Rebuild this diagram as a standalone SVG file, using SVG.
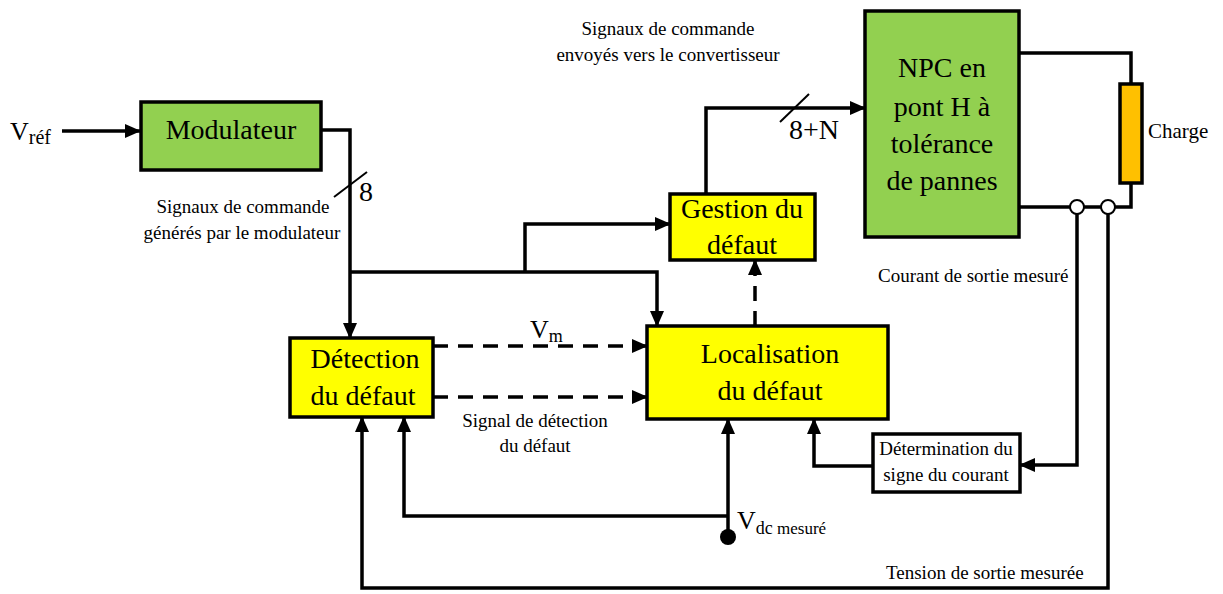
<svg xmlns="http://www.w3.org/2000/svg" width="1223" height="594" viewBox="0 0 1223 594">
<style>
text{font-family:'Liberation Serif',serif;fill:#000}
.box{stroke:#000;stroke-width:3.5}
.green{fill:#92D050}
.yellow{fill:#FFFF00}
.white{fill:#fff}
.orange{fill:#FFC000}
.big{font-size:28px}
.sm{font-size:19px}
.ln{fill:none;stroke:#000;stroke-width:3.5}
.dash{fill:none;stroke:#000;stroke-width:3.5;stroke-dasharray:15 10}
</style>
<defs>
<marker id="ah" markerWidth="16" markerHeight="14" refX="15" refY="7" orient="auto" markerUnits="userSpaceOnUse">
<path d="M0,0 L16,7 L0,14 Z" fill="#000"/>
</marker>
</defs>
<rect width="1223" height="594" fill="#fff"/>

<g id="connectors">
<path class="ln" d="M62,131 H140" marker-end="url(#ah)"/>
<path class="ln" d="M321,130 H350 V338" marker-end="url(#ah)"/>
<path class="ln" d="M350,272 H657 V326" marker-end="url(#ah)"/>
<path class="ln" d="M525,272 V224 H670" marker-end="url(#ah)"/>
<path class="ln" d="M706,194 V108 H865" marker-end="url(#ah)"/>
<path class="dash" d="M433,346 H647" marker-end="url(#ah)"/>
<path class="dash" d="M433,397 H647" marker-end="url(#ah)"/>
<path class="dash" d="M755,326 V260" marker-end="url(#ah)"/>
<path class="ln" d="M1019,53 H1131 V84"/>
<path class="ln" d="M1131,183 V207 H1019"/>
<path class="ln" d="M1077,213 V465 H1020" marker-end="url(#ah)"/>
<path class="ln" d="M1108,213 V588 H362 V417" marker-end="url(#ah)"/>
<path class="ln" d="M728,537 V419" marker-end="url(#ah)"/>
<path class="ln" d="M728,516 H404 V417" marker-end="url(#ah)"/>
<path class="ln" d="M873,466 H814 V419" marker-end="url(#ah)"/>
<line x1="334" y1="197" x2="367" y2="172" stroke="#000" stroke-width="2"/>
<line x1="780" y1="122" x2="809" y2="94" stroke="#000" stroke-width="2"/>
<circle cx="1077" cy="207" r="7" fill="#fff" stroke="#000" stroke-width="2"/>
<circle cx="1108" cy="207" r="7" fill="#fff" stroke="#000" stroke-width="2"/>
<circle cx="728" cy="537" r="8" fill="#000"/>
</g>

<g id="modulateur">
<rect class="box green" x="141" y="102" width="180" height="68"/>
<text class="big" font-family="Liberation Serif" x="231" y="139" text-anchor="middle">Modulateur</text>
</g>

<g id="npc">
<rect class="box green" x="865" y="11" width="154" height="226"/>
<text class="big" font-family="Liberation Serif" x="942" y="77" text-anchor="middle">NPC en</text>
<text class="big" font-family="Liberation Serif" x="942" y="116" text-anchor="middle">pont H à</text>
<text class="big" font-family="Liberation Serif" x="942" y="153" text-anchor="middle">tolérance</text>
<text class="big" font-family="Liberation Serif" x="942" y="190" text-anchor="middle">de pannes</text>
</g>

<g id="charge">
<rect class="box orange" x="1120" y="84" width="22" height="99"/>
<text font-family="Liberation Serif" x="1148" y="138" font-size="21">Charge</text>
</g>

<g id="gestion">
<rect class="box yellow" x="670" y="194" width="145" height="66"/>
<text class="big" font-family="Liberation Serif" x="742" y="218" text-anchor="middle">Gestion du</text>
<text class="big" font-family="Liberation Serif" x="742" y="254" text-anchor="middle">défaut</text>
</g>

<g id="detection">
<rect class="box yellow" x="290" y="338" width="143" height="79"/>
<text class="big" font-family="Liberation Serif" x="365" y="368" text-anchor="middle">Détection</text>
<text class="big" font-family="Liberation Serif" x="363" y="405" text-anchor="middle">du défaut</text>
</g>

<g id="localisation">
<rect class="box yellow" x="647" y="326" width="241" height="93"/>
<text class="big" font-family="Liberation Serif" x="770" y="363" text-anchor="middle">Localisation</text>
<text class="big" font-family="Liberation Serif" x="770" y="400" text-anchor="middle">du défaut</text>
</g>

<g id="determination">
<rect class="box white" x="873" y="434" width="147" height="58" stroke-width="3"/>
<text class="sm" font-family="Liberation Serif" x="946" y="455" text-anchor="middle">Détermination du</text>
<text class="sm" font-family="Liberation Serif" x="946" y="481" text-anchor="middle">signe du courant</text>
</g>

<g id="labels">
<text font-family="Liberation Serif" x="10" y="140" font-size="26">V<tspan font-size="20" dy="4">réf</tspan></text>
<text class="sm" font-family="Liberation Serif" x="243" y="213" text-anchor="middle">Signaux de commande</text>
<text class="sm" font-family="Liberation Serif" x="242" y="239" text-anchor="middle">générés par le modulateur</text>
<text class="big" font-family="Liberation Serif" x="359" y="201">8</text>
<text class="sm" font-family="Liberation Serif" x="668" y="35" text-anchor="middle">Signaux de commande</text>
<text class="sm" font-family="Liberation Serif" x="668" y="61" text-anchor="middle">envoyés vers le convertisseur</text>
<text class="big" font-family="Liberation Serif" x="789" y="139">8+N</text>
<text font-family="Liberation Serif" x="530" y="338" font-size="26">V<tspan font-size="18" dy="4">m</tspan></text>
<text class="sm" font-family="Liberation Serif" x="535" y="427" text-anchor="middle">Signal de détection</text>
<text class="sm" font-family="Liberation Serif" x="535" y="452" text-anchor="middle">du défaut</text>
<text class="sm" font-family="Liberation Serif" x="878" y="282">Courant de sortie mesuré</text>
<text font-family="Liberation Serif" x="737" y="529" font-size="26">V<tspan font-size="18" dy="5">dc</tspan><tspan font-size="17"> mesuré</tspan></text>
<text class="sm" font-family="Liberation Serif" x="886" y="579">Tension de sortie mesurée</text>
</g>
</svg>
